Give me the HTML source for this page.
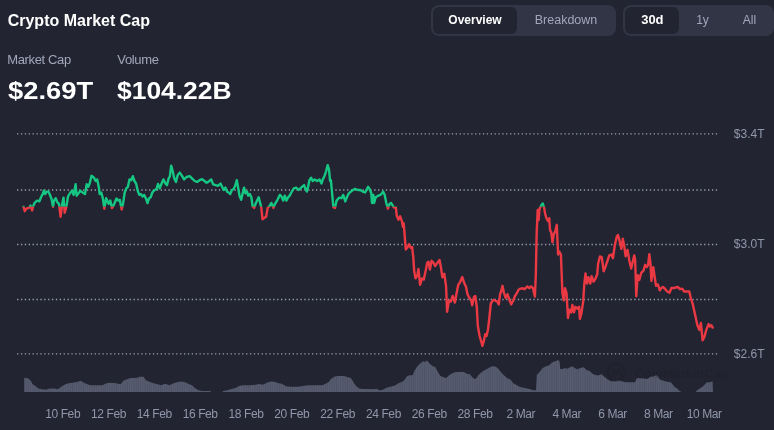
<!DOCTYPE html>
<html><head><meta charset="utf-8"><title>Crypto Market Cap</title>
<style>
*{margin:0;padding:0;box-sizing:border-box}
html,body{width:774px;height:430px;overflow:hidden;background:#222531}
body{position:relative;font-family:"Liberation Sans",Arial,sans-serif;color:#fff}
.a{position:absolute;white-space:nowrap;line-height:1}
.title{left:7.7px;top:13.4px;font-size:16px;font-weight:700;color:#fff}
.lbl{font-size:13px;color:#a1a7bb;letter-spacing:-0.35px;top:52.8px}
.big{font-size:24.5px;font-weight:700;color:#fff;top:78.5px;transform-origin:0 0}
.seg{position:absolute;background:#323546;border-radius:8px}
.act{position:absolute;background:#222531;border-radius:6px}
.tab{position:absolute;top:13.8px;font-size:12px;line-height:1;text-align:center;color:#a1a7bb;white-space:nowrap}
.tab.on{color:#fff;font-weight:700}
.yl{position:absolute;left:733.8px;font-size:12px;line-height:1;color:#9197ab;white-space:nowrap}
.xl{position:absolute;top:407.8px;width:60px;text-align:center;font-size:12px;line-height:1;color:#9197ab;letter-spacing:-0.4px;white-space:nowrap}
svg{position:absolute;left:0;top:0}
</style></head><body>
<div class="a title">Crypto Market Cap</div>
<div class="a lbl" style="left:7.2px">Market Cap</div>
<div class="a lbl" style="left:117.3px">Volume</div>
<div class="a big" style="left:7.6px;transform:scaleX(1.116)">$2.69T</div>
<div class="a big" style="left:116.8px;transform:scaleX(1.078)">$104.22B</div>

<div class="seg" style="left:431px;top:5px;width:185px;height:31px"></div>
<div class="act" style="left:433px;top:7px;width:84px;height:27px"></div>
<div class="tab on" style="left:433px;width:84px">Overview</div>
<div class="tab" style="left:517px;width:99px"><span style="display:inline-block;transform:scaleX(1.04)">Breakdown</span></div>

<div class="seg" style="left:623px;top:5px;width:150.5px;height:31px"></div>
<div class="act" style="left:625px;top:7px;width:54px;height:27px"></div>
<div class="tab on" style="left:625px;width:54px"><span style="display:inline-block;transform:scaleX(1.08)">30d</span></div>
<div class="tab" style="left:679px;width:47px">1y</div>
<div class="tab" style="left:726px;width:47px">All</div>

<svg width="774" height="430" viewBox="0 0 774 430">
<defs>
<pattern id="vs" x="0.3" y="0" width="2.2" height="10" patternUnits="userSpaceOnUse"><rect width="2.2" height="10" fill="#4e5366"/><rect width="1.1" height="10" fill="#575c70"/></pattern>
<clipPath id="up"><rect x="0" y="0" width="774" height="206.8"/></clipPath>
<clipPath id="dn"><rect x="0" y="206.8" width="774" height="223.2"/></clipPath>
</defs>
<g stroke="#9a9fb0" stroke-width="1.3" stroke-dasharray="1.3 2.582" fill="none">
<line x1="17.05" y1="133.9" x2="717.2" y2="133.9" />
<line x1="17.05" y1="190.0" x2="717.2" y2="190.0" />
<line x1="17.05" y1="244.5" x2="717.2" y2="244.5" />
<line x1="17.05" y1="299.5" x2="717.2" y2="299.5" />
<line x1="17.05" y1="353.9" x2="717.2" y2="353.9" />
</g>
<path d="M24.2,392.0 L24.2,377.7 L28.4,378.5 L31.0,381.0 L32.6,384.3 L35.2,386.0 L38.5,388.4 L41.9,389.3 L46.1,389.7 L48.6,388.8 L53.6,388.4 L57.8,389.3 L61.2,386.8 L65.4,384.3 L68.7,383.2 L72.1,382.7 L77.1,382.0 L80.5,380.7 L83.9,382.7 L87.2,384.3 L90.6,385.2 L95.6,385.2 L102.3,385.2 L106.5,383.2 L110.7,382.7 L115.8,383.2 L120.8,384.3 L123.3,380.7 L126.7,379.3 L130.9,378.0 L135.9,378.0 L140.1,376.8 L143.4,376.8 L145.9,380.2 L150.1,382.0 L153.4,383.2 L156.8,384.0 L161.0,385.2 L165.2,383.8 L169.4,385.2 L173.6,383.2 L177.8,382.0 L181.1,381.5 L185.3,382.3 L188.7,384.0 L192.1,385.2 L194.6,387.8 L197.9,390.0 L202.1,391.0 L210.5,391.0 L211.0,392.0 L222.5,392.0 L223.1,391.0 L227.3,390.2 L231.5,389.0 L235.7,388.0 L239.1,386.0 L242.5,385.2 L249.2,385.2 L255.9,384.7 L259.2,384.0 L262.6,384.7 L266.0,383.2 L268.4,382.0 L271.7,381.5 L275.1,382.0 L278.4,383.2 L281.8,383.8 L286.0,386.3 L290.2,386.8 L298.6,386.8 L302.8,386.0 L308.7,385.2 L315.4,385.2 L322.1,385.2 L325.5,383.8 L328.8,382.0 L330.5,379.3 L332.2,378.2 L334.7,376.5 L338.1,376.0 L343.9,376.0 L347.3,377.0 L350.7,378.0 L352.3,380.2 L354.0,383.2 L356.5,386.3 L359.0,388.4 L362.4,389.0 L369.1,389.0 L374.2,389.3 L376.7,388.8 L379.2,390.2 L382.6,390.0 L385.9,388.0 L390.1,386.8 L395.0,385.6 L398.4,383.2 L401.8,382.0 L404.3,380.2 L406.8,376.5 L409.3,375.2 L412.7,375.2 L414.4,371.0 L416.9,367.0 L419.4,364.3 L421.9,362.0 L423.6,361.2 L425.3,362.0 L426.9,360.4 L429.5,363.4 L432.8,366.2 L435.3,367.0 L437.9,372.0 L440.4,376.0 L443.7,377.2 L446.3,378.0 L448.8,375.5 L452.1,373.6 L454.7,372.3 L458.9,372.0 L463.9,372.0 L467.3,373.9 L469.8,374.2 L472.3,377.2 L474.8,379.3 L476.5,378.0 L478.2,375.2 L481.5,372.3 L484.9,370.0 L487.4,368.8 L490.8,366.8 L493.3,366.2 L495.8,366.8 L498.3,368.8 L500.8,372.0 L504.2,375.5 L507.6,378.4 L510.1,379.3 L513.4,383.2 L516.8,385.2 L520.0,387.0 L525.1,388.0 L530.1,389.3 L533.5,390.3 L536.0,390.3 L536.8,375.0 L539.4,372.3 L542.7,368.0 L546.1,366.2 L549.4,365.2 L552.0,362.6 L555.3,361.2 L558.3,360.1 L559.5,361.5 L560.3,369.0 L562.9,369.0 L564.5,368.0 L567.1,368.8 L569.6,367.6 L572.1,366.3 L574.6,368.0 L577.1,369.3 L580.5,368.0 L583.9,367.2 L586.4,370.0 L589.7,371.0 L593.1,374.2 L596.5,375.2 L599.0,375.2 L601.5,374.2 L604.0,376.5 L607.4,379.3 L610.7,381.2 L614.1,381.2 L619.1,380.6 L622.5,381.5 L625.8,382.3 L630.9,382.3 L635.1,382.3 L636.8,378.2 L641.0,378.2 L643.5,378.4 L647.0,379.0 L649.9,377.2 L651.6,376.5 L654.5,376.2 L656.3,375.0 L658.0,376.5 L659.8,379.5 L662.1,380.2 L664.4,381.0 L667.9,382.0 L670.8,382.3 L673.1,385.0 L674.9,387.2 L677.2,388.6 L679.0,390.5 L680.7,391.5 L681.0,392.0 L696.0,392.0 L696.4,391.0 L698.1,389.5 L700.5,388.0 L702.8,386.5 L705.1,384.3 L706.9,382.3 L709.8,382.3 L712.7,381.5 L713.0,392.0 L24.2,392.0Z" fill="url(#vs)"/>
<g opacity="0.22">
<circle cx="616.4" cy="372.3" r="8.6" fill="none" stroke="#15161d" stroke-width="2.2"/>
<path d="M611.2,377.2 L614,368.8 L616.6,375.4 L619.2,368.6 L621.4,376.6 L623,375.4" fill="none" stroke="#15161d" stroke-width="1.8" stroke-linejoin="round"/>
<text x="634.5" y="378" font-family="Liberation Sans" font-weight="700" font-size="12.8" fill="#15161d">CoinMarketCap</text>
</g>
<g fill="none" stroke-width="2.4" stroke-linejoin="round" stroke-linecap="round">
<path d="M23.5,206.8 L24.8,211.2 L26.4,208.7 L29.7,207.4 L30.5,205.5 L32.1,210.4 L32.9,207.1 L34.5,203.0 L37.0,200.6 L39.4,201.4 L41.0,197.3 L42.7,194.0 L44.0,190.5 L45.1,194.0 L46.8,191.6 L48.4,191.6 L50.0,195.0 L51.6,199.0 L53.0,206.8 L54.0,200.6 L55.7,198.2 L57.3,202.2 L59.0,203.9 L60.6,216.9 L62.2,203.9 L63.5,197.7 L64.7,212.8 L66.3,207.1 L68.0,196.5 L70.4,192.5 L72.0,190.8 L73.6,194.9 L75.6,184.3 L76.6,195.7 L78.5,193.3 L80.1,190.8 L82.6,192.5 L85.0,194.1 L86.7,184.3 L88.3,186.8 L89.9,182.7 L91.5,175.8 L94.0,177.8 L95.6,181.0 L97.2,179.4 L98.9,187.6 L99.7,194.1 L101.3,192.5 L103.0,199.0 L104.3,208.7 L106.2,198.2 L108.6,203.9 L110.3,200.6 L111.9,208.0 L113.5,205.5 L114.9,202.2 L116.5,198.6 L118.1,200.6 L119.8,199.8 L121.7,209.6 L123.0,203.9 L124.7,192.5 L126.3,188.4 L127.9,186.8 L129.5,179.4 L131.2,180.2 L132.8,176.2 L134.4,181.0 L136.1,183.5 L137.7,190.8 L139.3,194.9 L140.9,194.1 L142.6,196.5 L144.2,194.9 L145.8,198.2 L147.5,203.0 L149.1,198.2 L150.7,197.3 L152.3,192.5 L154.0,190.5 L156.4,189.2 L158.0,184.0 L159.7,188.4 L161.3,184.3 L163.4,179.4 L165.4,183.5 L167.0,185.1 L168.6,178.6 L169.9,176.2 L171.2,165.6 L172.7,171.3 L174.3,178.6 L176.0,181.9 L177.6,175.4 L179.7,172.6 L181.7,175.4 L184.1,179.4 L186.5,177.0 L189.8,176.2 L192.2,178.6 L194.7,181.0 L197.1,181.9 L199.6,180.2 L202.0,179.1 L204.5,181.0 L206.6,182.7 L208.3,181.9 L211.2,179.4 L213.1,184.3 L215.6,185.1 L218.0,185.9 L220.5,183.5 L222.1,186.8 L223.7,190.0 L225.4,187.6 L227.0,191.6 L228.6,192.5 L230.2,194.1 L231.9,190.0 L233.5,189.2 L235.1,186.0 L236.8,180.2 L238.4,189.2 L239.5,195.7 L241.2,199.8 L242.5,194.1 L244.1,187.6 L245.4,193.3 L247.0,191.6 L248.2,195.7 L249.8,194.1 L251.4,197.3 L252.6,206.3 L254.2,207.9 L255.5,203.9 L257.1,200.6 L258.7,197.3 L260.4,203.9 L261.2,207.1 L262.5,219.3 L264.4,217.7 L266.1,216.9 L267.7,207.9 L269.3,206.3 L271.4,203.0 L273.4,207.9 L275.0,203.9 L277.5,199.8 L279.9,194.9 L281.5,196.5 L283.2,200.6 L284.8,195.7 L286.4,200.6 L288.1,197.3 L289.7,195.7 L291.3,192.5 L293.8,188.4 L296.2,187.6 L298.6,190.0 L301.1,187.6 L304.1,185.1 L305.7,189.2 L306.8,191.6 L308.1,186.8 L309.4,180.2 L311.1,177.8 L312.7,181.0 L314.7,179.4 L317.1,181.0 L319.5,179.4 L321.5,183.5 L322.8,179.4 L324.4,176.2 L326.1,171.3 L327.7,165.1 L329.0,169.7 L330.1,181.0 L330.9,180.2 L331.8,190.0 L333.4,207.1 L335.0,207.9 L336.6,200.6 L339.1,197.7 L341.5,198.2 L343.2,194.9 L345.3,201.4 L347.2,196.5 L348.9,193.3 L350.8,191.6 L352.9,190.0 L355.0,188.9 L357.8,190.0 L360.3,190.0 L362.7,191.6 L365.1,192.5 L366.8,189.2 L368.1,186.8 L369.7,189.2 L371.3,193.3 L372.0,203.0 L373.3,194.9 L374.1,203.0 L375.7,197.3 L378.2,195.7 L380.6,194.9 L383.1,191.6 L384.7,194.9 L386.3,203.0 L387.9,208.7 L389.6,203.9 L391.2,203.0 L393.6,207.1 L395.3,207.9 L395.9,207.6 L396.7,215.5 L398.5,219.8 L400.2,216.3 L402.0,221.6 L402.9,226.8 L403.7,223.3 L404.6,234.7 L405.8,249.5 L407.2,247.8 L409.0,244.3 L410.7,247.8 L412.1,246.9 L413.3,257.4 L414.2,271.3 L415.5,278.4 L417.3,275.6 L418.4,269.0 L420.1,284.9 L422.0,278.4 L423.8,279.5 L425.6,271.0 L427.3,262.6 L428.5,261.7 L429.9,269.6 L431.6,260.8 L433.4,262.6 L435.1,266.1 L436.9,263.5 L439.5,260.0 L440.7,266.0 L442.4,277.4 L444.3,273.7 L446.1,286.7 L447.1,311.8 L448.9,300.7 L450.8,301.6 L452.7,296.0 L454.9,302.5 L456.4,294.2 L458.2,284.9 L460.1,282.1 L462.3,277.1 L464.2,283.0 L466.0,286.7 L467.5,294.2 L469.4,297.9 L471.3,300.7 L472.2,305.3 L474.0,297.0 L475.3,296.0 L476.8,307.2 L477.8,325.8 L479.6,336.0 L481.5,342.5 L482.4,345.9 L483.9,340.7 L485.2,334.2 L486.5,336.0 L488.0,329.5 L489.5,316.5 L490.8,303.5 L492.1,301.6 L493.6,299.8 L495.4,300.7 L497.3,301.6 L498.8,304.4 L500.1,294.2 L501.4,290.5 L502.5,285.8 L503.8,292.3 L505.7,297.9 L507.5,294.2 L509.4,299.8 L511.2,304.4 L513.1,300.7 L515.0,296.0 L516.8,293.2 L518.7,289.5 L520.5,288.6 L522.8,288.2 L524.6,289.2 L527.4,286.4 L529.3,288.2 L531.2,286.4 L533.0,288.2 L534.9,296.6 L535.8,275.0 L536.7,232.2 L537.7,209.9 L538.6,220.1 L539.5,209.0 L540.8,206.2 L542.7,203.4 L544.2,208.0 L545.1,213.6 L546.4,218.2 L547.9,221.0 L549.2,218.2 L550.1,230.3 L551.2,232.2 L552.5,242.4 L553.8,234.1 L555.3,231.3 L556.8,224.8 L558.1,254.5 L559.4,251.7 L560.9,254.5 L562.4,292.9 L563.7,300.3 L565.0,288.2 L566.5,292.9 L568.0,318.0 L569.3,309.6 L571.1,312.4 L572.4,305.0 L573.9,312.4 L575.4,306.8 L577.3,308.7 L579.1,306.8 L579.9,318.9 L581.4,313.4 L583.2,301.3 L584.2,285.5 L585.5,273.4 L587.0,283.6 L588.4,277.1 L590.3,283.6 L591.6,276.2 L593.5,281.7 L595.3,279.0 L597.2,274.3 L598.1,263.8 L600.0,256.4 L601.8,257.3 L603.7,271.3 L605.5,266.6 L607.4,261.0 L609.3,255.4 L611.5,254.5 L613.0,258.2 L614.8,245.2 L616.7,236.8 L618.0,235.0 L619.5,240.6 L621.4,248.9 L622.8,238.7 L624.1,245.2 L625.6,256.4 L627.5,249.9 L629.4,261.0 L631.2,268.5 L632.3,263.6 L634.2,255.5 L635.1,259.0 L636.3,296.2 L637.7,275.2 L639.3,279.9 L641.2,272.9 L643.5,270.6 L645.1,264.8 L646.7,267.1 L648.1,264.8 L649.3,254.3 L650.5,263.6 L651.4,281.0 L653.3,267.1 L654.4,275.2 L656.0,285.7 L657.9,284.5 L659.8,290.3 L661.4,288.0 L663.0,286.9 L665.3,289.2 L667.2,291.5 L669.5,292.7 L671.4,288.0 L674.2,288.0 L677.7,286.9 L680.0,289.2 L682.3,288.7 L684.0,291.5 L687.0,291.5 L689.3,291.5 L690.9,298.5 L692.8,304.3 L695.1,314.8 L697.4,325.2 L699.3,329.9 L700.9,322.9 L702.6,340.3 L704.4,336.9 L706.3,329.9 L708.6,324.1 L709.8,326.4 L711.4,325.2 L712.6,327.6" stroke="#16c784" clip-path="url(#up)"/>
<path d="M23.5,206.8 L24.8,211.2 L26.4,208.7 L29.7,207.4 L30.5,205.5 L32.1,210.4 L32.9,207.1 L34.5,203.0 L37.0,200.6 L39.4,201.4 L41.0,197.3 L42.7,194.0 L44.0,190.5 L45.1,194.0 L46.8,191.6 L48.4,191.6 L50.0,195.0 L51.6,199.0 L53.0,206.8 L54.0,200.6 L55.7,198.2 L57.3,202.2 L59.0,203.9 L60.6,216.9 L62.2,203.9 L63.5,197.7 L64.7,212.8 L66.3,207.1 L68.0,196.5 L70.4,192.5 L72.0,190.8 L73.6,194.9 L75.6,184.3 L76.6,195.7 L78.5,193.3 L80.1,190.8 L82.6,192.5 L85.0,194.1 L86.7,184.3 L88.3,186.8 L89.9,182.7 L91.5,175.8 L94.0,177.8 L95.6,181.0 L97.2,179.4 L98.9,187.6 L99.7,194.1 L101.3,192.5 L103.0,199.0 L104.3,208.7 L106.2,198.2 L108.6,203.9 L110.3,200.6 L111.9,208.0 L113.5,205.5 L114.9,202.2 L116.5,198.6 L118.1,200.6 L119.8,199.8 L121.7,209.6 L123.0,203.9 L124.7,192.5 L126.3,188.4 L127.9,186.8 L129.5,179.4 L131.2,180.2 L132.8,176.2 L134.4,181.0 L136.1,183.5 L137.7,190.8 L139.3,194.9 L140.9,194.1 L142.6,196.5 L144.2,194.9 L145.8,198.2 L147.5,203.0 L149.1,198.2 L150.7,197.3 L152.3,192.5 L154.0,190.5 L156.4,189.2 L158.0,184.0 L159.7,188.4 L161.3,184.3 L163.4,179.4 L165.4,183.5 L167.0,185.1 L168.6,178.6 L169.9,176.2 L171.2,165.6 L172.7,171.3 L174.3,178.6 L176.0,181.9 L177.6,175.4 L179.7,172.6 L181.7,175.4 L184.1,179.4 L186.5,177.0 L189.8,176.2 L192.2,178.6 L194.7,181.0 L197.1,181.9 L199.6,180.2 L202.0,179.1 L204.5,181.0 L206.6,182.7 L208.3,181.9 L211.2,179.4 L213.1,184.3 L215.6,185.1 L218.0,185.9 L220.5,183.5 L222.1,186.8 L223.7,190.0 L225.4,187.6 L227.0,191.6 L228.6,192.5 L230.2,194.1 L231.9,190.0 L233.5,189.2 L235.1,186.0 L236.8,180.2 L238.4,189.2 L239.5,195.7 L241.2,199.8 L242.5,194.1 L244.1,187.6 L245.4,193.3 L247.0,191.6 L248.2,195.7 L249.8,194.1 L251.4,197.3 L252.6,206.3 L254.2,207.9 L255.5,203.9 L257.1,200.6 L258.7,197.3 L260.4,203.9 L261.2,207.1 L262.5,219.3 L264.4,217.7 L266.1,216.9 L267.7,207.9 L269.3,206.3 L271.4,203.0 L273.4,207.9 L275.0,203.9 L277.5,199.8 L279.9,194.9 L281.5,196.5 L283.2,200.6 L284.8,195.7 L286.4,200.6 L288.1,197.3 L289.7,195.7 L291.3,192.5 L293.8,188.4 L296.2,187.6 L298.6,190.0 L301.1,187.6 L304.1,185.1 L305.7,189.2 L306.8,191.6 L308.1,186.8 L309.4,180.2 L311.1,177.8 L312.7,181.0 L314.7,179.4 L317.1,181.0 L319.5,179.4 L321.5,183.5 L322.8,179.4 L324.4,176.2 L326.1,171.3 L327.7,165.1 L329.0,169.7 L330.1,181.0 L330.9,180.2 L331.8,190.0 L333.4,207.1 L335.0,207.9 L336.6,200.6 L339.1,197.7 L341.5,198.2 L343.2,194.9 L345.3,201.4 L347.2,196.5 L348.9,193.3 L350.8,191.6 L352.9,190.0 L355.0,188.9 L357.8,190.0 L360.3,190.0 L362.7,191.6 L365.1,192.5 L366.8,189.2 L368.1,186.8 L369.7,189.2 L371.3,193.3 L372.0,203.0 L373.3,194.9 L374.1,203.0 L375.7,197.3 L378.2,195.7 L380.6,194.9 L383.1,191.6 L384.7,194.9 L386.3,203.0 L387.9,208.7 L389.6,203.9 L391.2,203.0 L393.6,207.1 L395.3,207.9 L395.9,207.6 L396.7,215.5 L398.5,219.8 L400.2,216.3 L402.0,221.6 L402.9,226.8 L403.7,223.3 L404.6,234.7 L405.8,249.5 L407.2,247.8 L409.0,244.3 L410.7,247.8 L412.1,246.9 L413.3,257.4 L414.2,271.3 L415.5,278.4 L417.3,275.6 L418.4,269.0 L420.1,284.9 L422.0,278.4 L423.8,279.5 L425.6,271.0 L427.3,262.6 L428.5,261.7 L429.9,269.6 L431.6,260.8 L433.4,262.6 L435.1,266.1 L436.9,263.5 L439.5,260.0 L440.7,266.0 L442.4,277.4 L444.3,273.7 L446.1,286.7 L447.1,311.8 L448.9,300.7 L450.8,301.6 L452.7,296.0 L454.9,302.5 L456.4,294.2 L458.2,284.9 L460.1,282.1 L462.3,277.1 L464.2,283.0 L466.0,286.7 L467.5,294.2 L469.4,297.9 L471.3,300.7 L472.2,305.3 L474.0,297.0 L475.3,296.0 L476.8,307.2 L477.8,325.8 L479.6,336.0 L481.5,342.5 L482.4,345.9 L483.9,340.7 L485.2,334.2 L486.5,336.0 L488.0,329.5 L489.5,316.5 L490.8,303.5 L492.1,301.6 L493.6,299.8 L495.4,300.7 L497.3,301.6 L498.8,304.4 L500.1,294.2 L501.4,290.5 L502.5,285.8 L503.8,292.3 L505.7,297.9 L507.5,294.2 L509.4,299.8 L511.2,304.4 L513.1,300.7 L515.0,296.0 L516.8,293.2 L518.7,289.5 L520.5,288.6 L522.8,288.2 L524.6,289.2 L527.4,286.4 L529.3,288.2 L531.2,286.4 L533.0,288.2 L534.9,296.6 L535.8,275.0 L536.7,232.2 L537.7,209.9 L538.6,220.1 L539.5,209.0 L540.8,206.2 L542.7,203.4 L544.2,208.0 L545.1,213.6 L546.4,218.2 L547.9,221.0 L549.2,218.2 L550.1,230.3 L551.2,232.2 L552.5,242.4 L553.8,234.1 L555.3,231.3 L556.8,224.8 L558.1,254.5 L559.4,251.7 L560.9,254.5 L562.4,292.9 L563.7,300.3 L565.0,288.2 L566.5,292.9 L568.0,318.0 L569.3,309.6 L571.1,312.4 L572.4,305.0 L573.9,312.4 L575.4,306.8 L577.3,308.7 L579.1,306.8 L579.9,318.9 L581.4,313.4 L583.2,301.3 L584.2,285.5 L585.5,273.4 L587.0,283.6 L588.4,277.1 L590.3,283.6 L591.6,276.2 L593.5,281.7 L595.3,279.0 L597.2,274.3 L598.1,263.8 L600.0,256.4 L601.8,257.3 L603.7,271.3 L605.5,266.6 L607.4,261.0 L609.3,255.4 L611.5,254.5 L613.0,258.2 L614.8,245.2 L616.7,236.8 L618.0,235.0 L619.5,240.6 L621.4,248.9 L622.8,238.7 L624.1,245.2 L625.6,256.4 L627.5,249.9 L629.4,261.0 L631.2,268.5 L632.3,263.6 L634.2,255.5 L635.1,259.0 L636.3,296.2 L637.7,275.2 L639.3,279.9 L641.2,272.9 L643.5,270.6 L645.1,264.8 L646.7,267.1 L648.1,264.8 L649.3,254.3 L650.5,263.6 L651.4,281.0 L653.3,267.1 L654.4,275.2 L656.0,285.7 L657.9,284.5 L659.8,290.3 L661.4,288.0 L663.0,286.9 L665.3,289.2 L667.2,291.5 L669.5,292.7 L671.4,288.0 L674.2,288.0 L677.7,286.9 L680.0,289.2 L682.3,288.7 L684.0,291.5 L687.0,291.5 L689.3,291.5 L690.9,298.5 L692.8,304.3 L695.1,314.8 L697.4,325.2 L699.3,329.9 L700.9,322.9 L702.6,340.3 L704.4,336.9 L706.3,329.9 L708.6,324.1 L709.8,326.4 L711.4,325.2 L712.6,327.6" stroke="#ea3943" clip-path="url(#dn)"/>
</g>
</svg>
<div class="yl" style="top:128.4px">$3.4T</div>
<div class="yl" style="top:238.4px">$3.0T</div>
<div class="yl" style="top:348.4px">$2.6T</div>
<div class="xl" style="left:32.70px">10 Feb</div>
<div class="xl" style="left:78.52px">12 Feb</div>
<div class="xl" style="left:124.34px">14 Feb</div>
<div class="xl" style="left:170.16px">16 Feb</div>
<div class="xl" style="left:215.98px">18 Feb</div>
<div class="xl" style="left:261.80px">20 Feb</div>
<div class="xl" style="left:307.62px">22 Feb</div>
<div class="xl" style="left:353.44px">24 Feb</div>
<div class="xl" style="left:399.26px">26 Feb</div>
<div class="xl" style="left:445.08px">28 Feb</div>
<div class="xl" style="left:490.90px">2 Mar</div>
<div class="xl" style="left:536.72px">4 Mar</div>
<div class="xl" style="left:582.54px">6 Mar</div>
<div class="xl" style="left:628.36px">8 Mar</div>
<div class="xl" style="left:674.18px">10 Mar</div>
</body></html>
